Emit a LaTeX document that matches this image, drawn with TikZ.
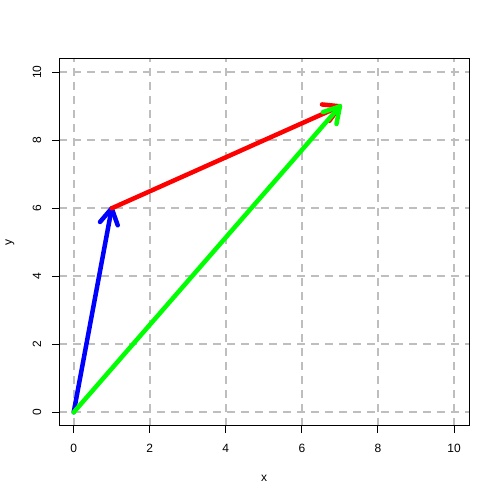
\documentclass[tikz,border=0pt]{standalone}
\usepackage{fontspec}
\setmainfont{Liberation Sans}
\usetikzlibrary{calc}
\definecolor{rgrey}{HTML}{BEBEBE}
\definecolor{rblue}{HTML}{0000FF}
\definecolor{rred}{HTML}{FF0000}
\definecolor{rgreen}{HTML}{00FF00}
\tikzset{
  gridline/.style={rgrey, line width=2pt, dash pattern=on 8pt off 6pt},
  vec/.style={line width=4.5pt, line cap=round, line join=round},
  ticklab/.style={font=\fontsize{12}{14}\selectfont, inner sep=0pt},
  axlab/.style={font=\fontsize{12}{14}\selectfont, inner sep=0pt},
}
\begin{document}
\begin{tikzpicture}
\useasboundingbox (0,0) rectangle (500pt,500pt);
\fill[white] (0,0) rectangle (500pt,500pt);
% plot box corners
\coordinate (bl) at (59pt,74pt);
\coordinate (tr) at (469pt,441pt);
\begin{scope}[shift={(73.7pt,87.7pt)}, x=38.03pt, y=34pt]
  % grid
  \foreach \v in {0,2,...,10} {
    \draw[gridline] (\v,0 |- bl) -- (\v,0 |- tr);
    \draw[gridline] (0,\v -| bl) -- (0,\v -| tr);
  }
  % vectors
  \coordinate (o) at (0,0);
  \coordinate (p) at (1,6);
  \coordinate (q) at (7,9);
  \draw[vec, rblue] (o) -- (p);
  \draw[vec, rblue] ($(p)!18pt!30:(o)$) -- (p) -- ($(p)!18pt!-30:(o)$);
  \draw[vec, rred] (p) -- (q);
  \draw[vec, rred] ($(q)!18pt!30:(p)$) -- (q) -- ($(q)!18pt!-30:(p)$);
  \draw[vec, rgreen] (o) -- (q);
  \draw[vec, rgreen] ($(q)!18pt!30:(o)$) -- (q) -- ($(q)!18pt!-30:(o)$);
  % ticks and labels
  \foreach \v in {0,2,...,10} {
    \draw[line width=1pt] (\v,0 |- bl) -- ++(0,-7.2pt) coordinate (xt\v);
    \node[ticklab] (xl\v) at ($(\v,0 |- bl)+(0,-22pt)$) {\v};
    \draw[line width=1pt] (0,\v -| bl) -- ++(-7.2pt,0) coordinate (yt\v);
    \node[ticklab, rotate=90] (yl\v) at ($(0,\v -| bl)+(-22pt,0)$) {\v};
  }
\end{scope}
% box
\draw[line width=1pt] (bl) rectangle (tr);
% axis labels
\node[axlab] (xlab) at (264pt,22pt) {x};
\node[axlab, rotate=90] (ylab) at (10pt,257.5pt) {y};
\end{tikzpicture}
\end{document}
